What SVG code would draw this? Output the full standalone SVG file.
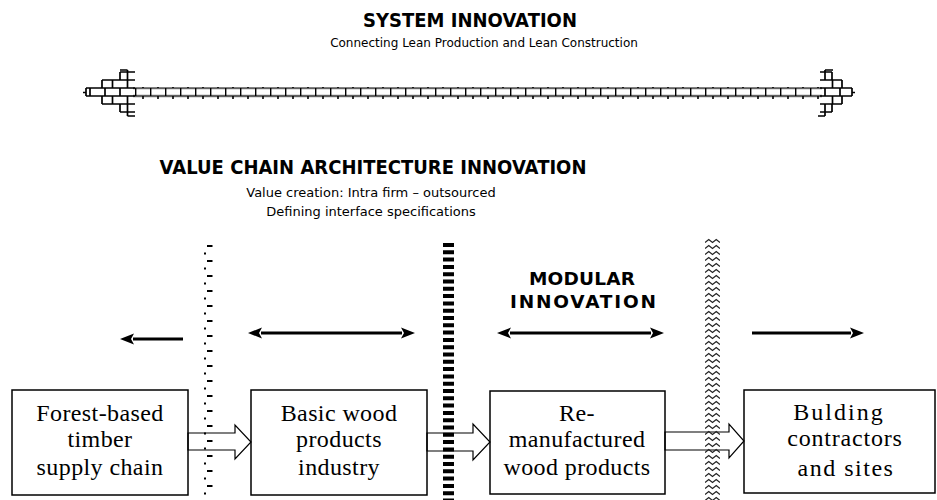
<svg xmlns="http://www.w3.org/2000/svg" width="937" height="500" viewBox="0 0 937 500">
<style>
.t1{font-family:"DejaVu Sans",Verdana,sans-serif;font-weight:bold;font-size:18px;fill:#000;text-anchor:middle}
.st{font-family:"DejaVu Sans",Verdana,sans-serif;font-size:13px;fill:#000;text-anchor:middle}
.mod{font-family:"DejaVu Sans",Verdana,sans-serif;font-weight:bold;font-size:18.5px;fill:#000;text-anchor:middle}
.bx{fill:#fff;stroke:#000;stroke-width:1.5}
.bt{font-family:"Liberation Serif","Times New Roman",serif;font-size:24px;fill:#000;text-anchor:middle;letter-spacing:0.4px}
.blk{fill:none;stroke:#000;stroke-width:1.2;stroke-linejoin:miter}
.har{stroke:#000;stroke-width:3;fill:none}
.brk{fill:none;stroke:#000;stroke-width:1.7}
</style>
<defs>
<pattern id="brick" patternUnits="userSpaceOnUse" x="0" y="87.5" width="15" height="16">
<path d="M0,0.5 H15 M0,8.5 H15 M0.6,0 V8.5 M8,8.5 V16" stroke="#000" stroke-width="1.6" fill="none"/>
</pattern>
<pattern id="zig" patternUnits="userSpaceOnUse" x="705" y="238" width="15" height="6">
<path d="M0,4.5 L3.75,1.5 L7.5,4.5 L11.25,1.5 L15,4.5" stroke="#222" stroke-width="1.3" fill="none"/>
</pattern>
<pattern id="dotdash" patternUnits="userSpaceOnUse" x="0" y="245" width="937" height="15">
<rect x="207" y="0" width="5.5" height="2" fill="#000"/>
<rect x="204" y="7.5" width="2" height="2" fill="#000"/>
</pattern>
<marker id="ah" markerUnits="userSpaceOnUse" viewBox="0 0 14 12" refX="1" refY="6" markerWidth="14" markerHeight="12" orient="auto-start-reverse">
<path d="M0,0.5 L14,6 L0,11.5 L3,6 z" fill="#000"/>
</marker>
</defs>

<g id="system-innovation">
<text class="t1" transform="translate(470,27) scale(1,1.12)">SYSTEM INNOVATION</text>
<text class="st" x="484" y="47" style="font-size:12px">Connecting Lean Production and Lean Construction</text>
</g>

<g id="brick-arrow">
<rect x="133" y="87" width="689" height="12" fill="url(#brick)"/>
<path class="brk" d="M120,72H135 M102,80H135 M86,88H135 M86,96H135 M102,104H135 M120,112H135 M120,72V80 M120,104V112 M102,80V88 M102,96V104 M86,88V96 M127.5,70V80 M112.5,80V88 M127.5,80V88 M90,88V96 M105,88V96 M120,88V96 M112.5,96V104 M127.5,96V104 M127.5,104V116 M120,70H127.5 M127.5,116H135 M83,92.5H86"/>
<path class="brk" d="M820,72H832 M820,80H842 M820,88H852 M820,96H852 M820,104H842 M820,112H832 M832,72V80 M832,104V112 M842,80V88 M842,96V104 M852,88V96 M825,70V80 M832.5,80V88 M825,88V96 M840,88V96 M832.5,96V104 M825,104V116 M825,70H833 M818,116H825 M852,92.5H855"/>
</g>

<g id="value-chain-title">
<text class="t1" transform="translate(373,174) scale(1,1.12)">VALUE CHAIN ARCHITECTURE INNOVATION</text>
<text class="st" x="371" y="197">Value creation: Intra firm – outsourced</text>
<text class="st" x="371" y="216">Defining interface specifications</text>
</g>

<g id="modular-label">
<text class="mod" x="582" y="285" textLength="106" lengthAdjust="spacing">MODULAR</text>
<text class="mod" x="583" y="308" textLength="146" lengthAdjust="spacing">INNOVATION</text>
</g>

<g id="scope-arrows">
<line class="har" x1="183" y1="339" x2="133" y2="339" marker-end="url(#ah)"/>
<line class="har" x1="261" y1="333" x2="402" y2="333" marker-start="url(#ah)" marker-end="url(#ah)"/>
<line class="har" x1="510" y1="333" x2="651" y2="333" marker-start="url(#ah)" marker-end="url(#ah)"/>
<line class="har" x1="752" y1="333" x2="851" y2="333" marker-end="url(#ah)"/>
</g>

<g id="node-forest">
<rect class="bx" x="12" y="390" width="176" height="105"/>
<text class="bt" x="100" y="421">Forest-based</text>
<text class="bt" x="100" y="447">timber</text>
<text class="bt" x="100" y="475">supply chain</text>
</g>
<g id="node-basic-wood">
<rect class="bx" x="251" y="390" width="176" height="105"/>
<text class="bt" x="339" y="421">Basic wood</text>
<text class="bt" x="339" y="447">products</text>
<text class="bt" x="339" y="475">industry</text>
</g>
<g id="node-remanufactured">
<rect class="bx" x="490" y="391" width="175" height="103"/>
<text class="bt" x="577" y="421">Re-</text>
<text class="bt" x="577" y="447">manufactured</text>
<text class="bt" x="577" y="475">wood products</text>
</g>
<g id="node-building">
<rect class="bx" x="744" y="390" width="191" height="103"/>
<text class="bt" x="839" y="420" style="letter-spacing:2px">Bulding</text>
<text class="bt" x="845" y="446" style="letter-spacing:0.8px">contractors</text>
<text class="bt" x="846" y="476" style="letter-spacing:1.5px">and sites</text>
</g>

<g id="connectors">
<polygon class="blk" points="188,433 235,433 235,425 251,442 235,459 235,450 188,450"/>
<polygon class="blk" points="427,433 473,433 473,424 490,442 473,460 473,451 427,451"/>
<polygon class="blk" points="665,432 729,432 729,424 744,441 729,458 729,450 665,450"/>
</g>

<g id="dividers">
<rect x="200" y="245" width="15" height="255" fill="url(#dotdash)"/>
<line x1="448.5" y1="243" x2="448.5" y2="500" stroke="#000" stroke-width="11" stroke-dasharray="4 3.3"/>
<rect x="705" y="238" width="15" height="262" fill="url(#zig)"/>
</g>
</svg>
